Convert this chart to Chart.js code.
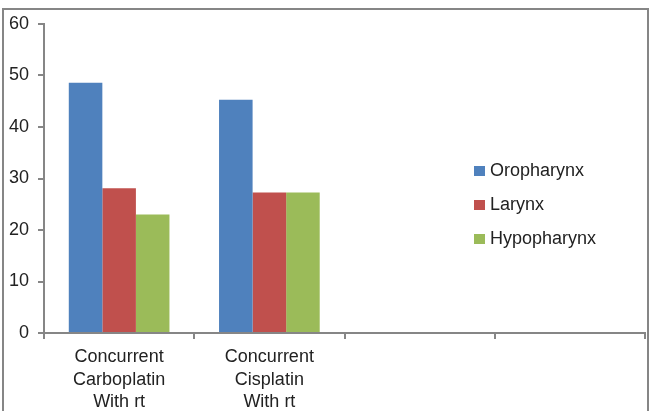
<!DOCTYPE html>
<html>
<head>
<meta charset="utf-8">
<script src="https://cdn.jsdelivr.net/npm/chart.js@4/dist/chart.umd.min.js"></script>
<style>
  html, body { margin: 0; padding: 0; background: #fff; overflow: hidden; }
  #wrap { width: 652px; height: 411px; position: relative; }
</style>
</head>
<body>
<div id="wrap"><canvas id="rt-chart" width="652" height="411"></canvas></div>
<script>
var categories = [
    ['Concurrent', 'Carboplatin', 'With rt'],
    ['Concurrent', 'Cisplatin', 'With rt'],
    '',
    ''
];
var seriesNames = ['Oropharynx', 'Larynx', 'Hypopharynx'];
var oropharynx = [48.6, 45.3, null, null];
var larynx = [28.1, 27.3, null, null];
var hypopharynx = [23.0, 27.3, null, null];
var yTicks = { min: 0, max: 60, step: 10 };

var colors = ['#4F81BD', '#C0504D', '#9BBB59'];
var axisGray = '#868686';
var textColor = '#222222';
var fontFamily = '"Liberation Sans", Arial, sans-serif';

// legend drawn over the plot, like the original
var sideLegend = {
    id: 'sideLegend',
    afterDraw: function (chart) {
        var ctx = chart.ctx;
        ctx.save();
        ctx.font = '18px ' + fontFamily;
        ctx.textBaseline = 'middle';
        ctx.textAlign = 'left';
        chart.data.datasets.forEach(function (ds, i) {
            var y = 171 + i * 34;
            ctx.fillStyle = ds.backgroundColor;
            ctx.fillRect(474, y - 5, 11, 10);
            ctx.fillStyle = textColor;
            ctx.fillText(ds.label, 490, y);
        });
        ctx.restore();
    }
};

// outer frame of the chart
var frame = {
    id: 'frame',
    afterDraw: function (chart) {
        var ctx = chart.ctx;
        ctx.save();
        ctx.strokeStyle = axisGray;
        ctx.lineWidth = 2;
        ctx.strokeRect(3, 9, 645, 500);
        ctx.restore();
    }
};

var ctx = document.getElementById('rt-chart').getContext('2d');
var myChart = new Chart(ctx, {
    type: 'bar',
    data: {
        labels: categories,
        datasets: [
            { label: seriesNames[0], data: oropharynx, backgroundColor: colors[0] },
            { label: seriesNames[1], data: larynx, backgroundColor: colors[1] },
            { label: seriesNames[2], data: hypopharynx, backgroundColor: colors[2] }
        ]
    },
    options: {
        responsive: false,
        animation: false,
        layout: { padding: { top: 24, right: 7, left: 0, bottom: 0 } },
        datasets: {
            bar: { categoryPercentage: 0.67, barPercentage: 1.0 }
        },
        plugins: {
            legend: { display: false },
            tooltip: { enabled: false }
        },
        scales: {
            x: {
                offset: true,
                grid: {
                    offset: true,
                    drawOnChartArea: false,
                    tickLength: 6,
                    color: axisGray,
                    lineWidth: 2
                },
                border: { color: axisGray, width: 2 },
                ticks: {
                    color: textColor,
                    font: { size: 18, family: fontFamily, lineHeight: 1.25 },
                    maxRotation: 0,
                    autoSkip: false,
                    padding: 7
                },
                afterFit: function (scale) { scale.height = 78; }
            },
            y: {
                min: yTicks.min,
                max: yTicks.max,
                grid: {
                    drawOnChartArea: false,
                    tickLength: 6,
                    color: axisGray,
                    lineWidth: 2
                },
                border: { color: axisGray, width: 2 },
                ticks: {
                    stepSize: yTicks.step,
                    color: textColor,
                    font: { size: 18, family: fontFamily },
                    padding: 9
                },
                afterFit: function (scale) { scale.width = 44; }
            }
        }
    },
    plugins: [sideLegend, frame]
});
</script>
</body>
</html>
